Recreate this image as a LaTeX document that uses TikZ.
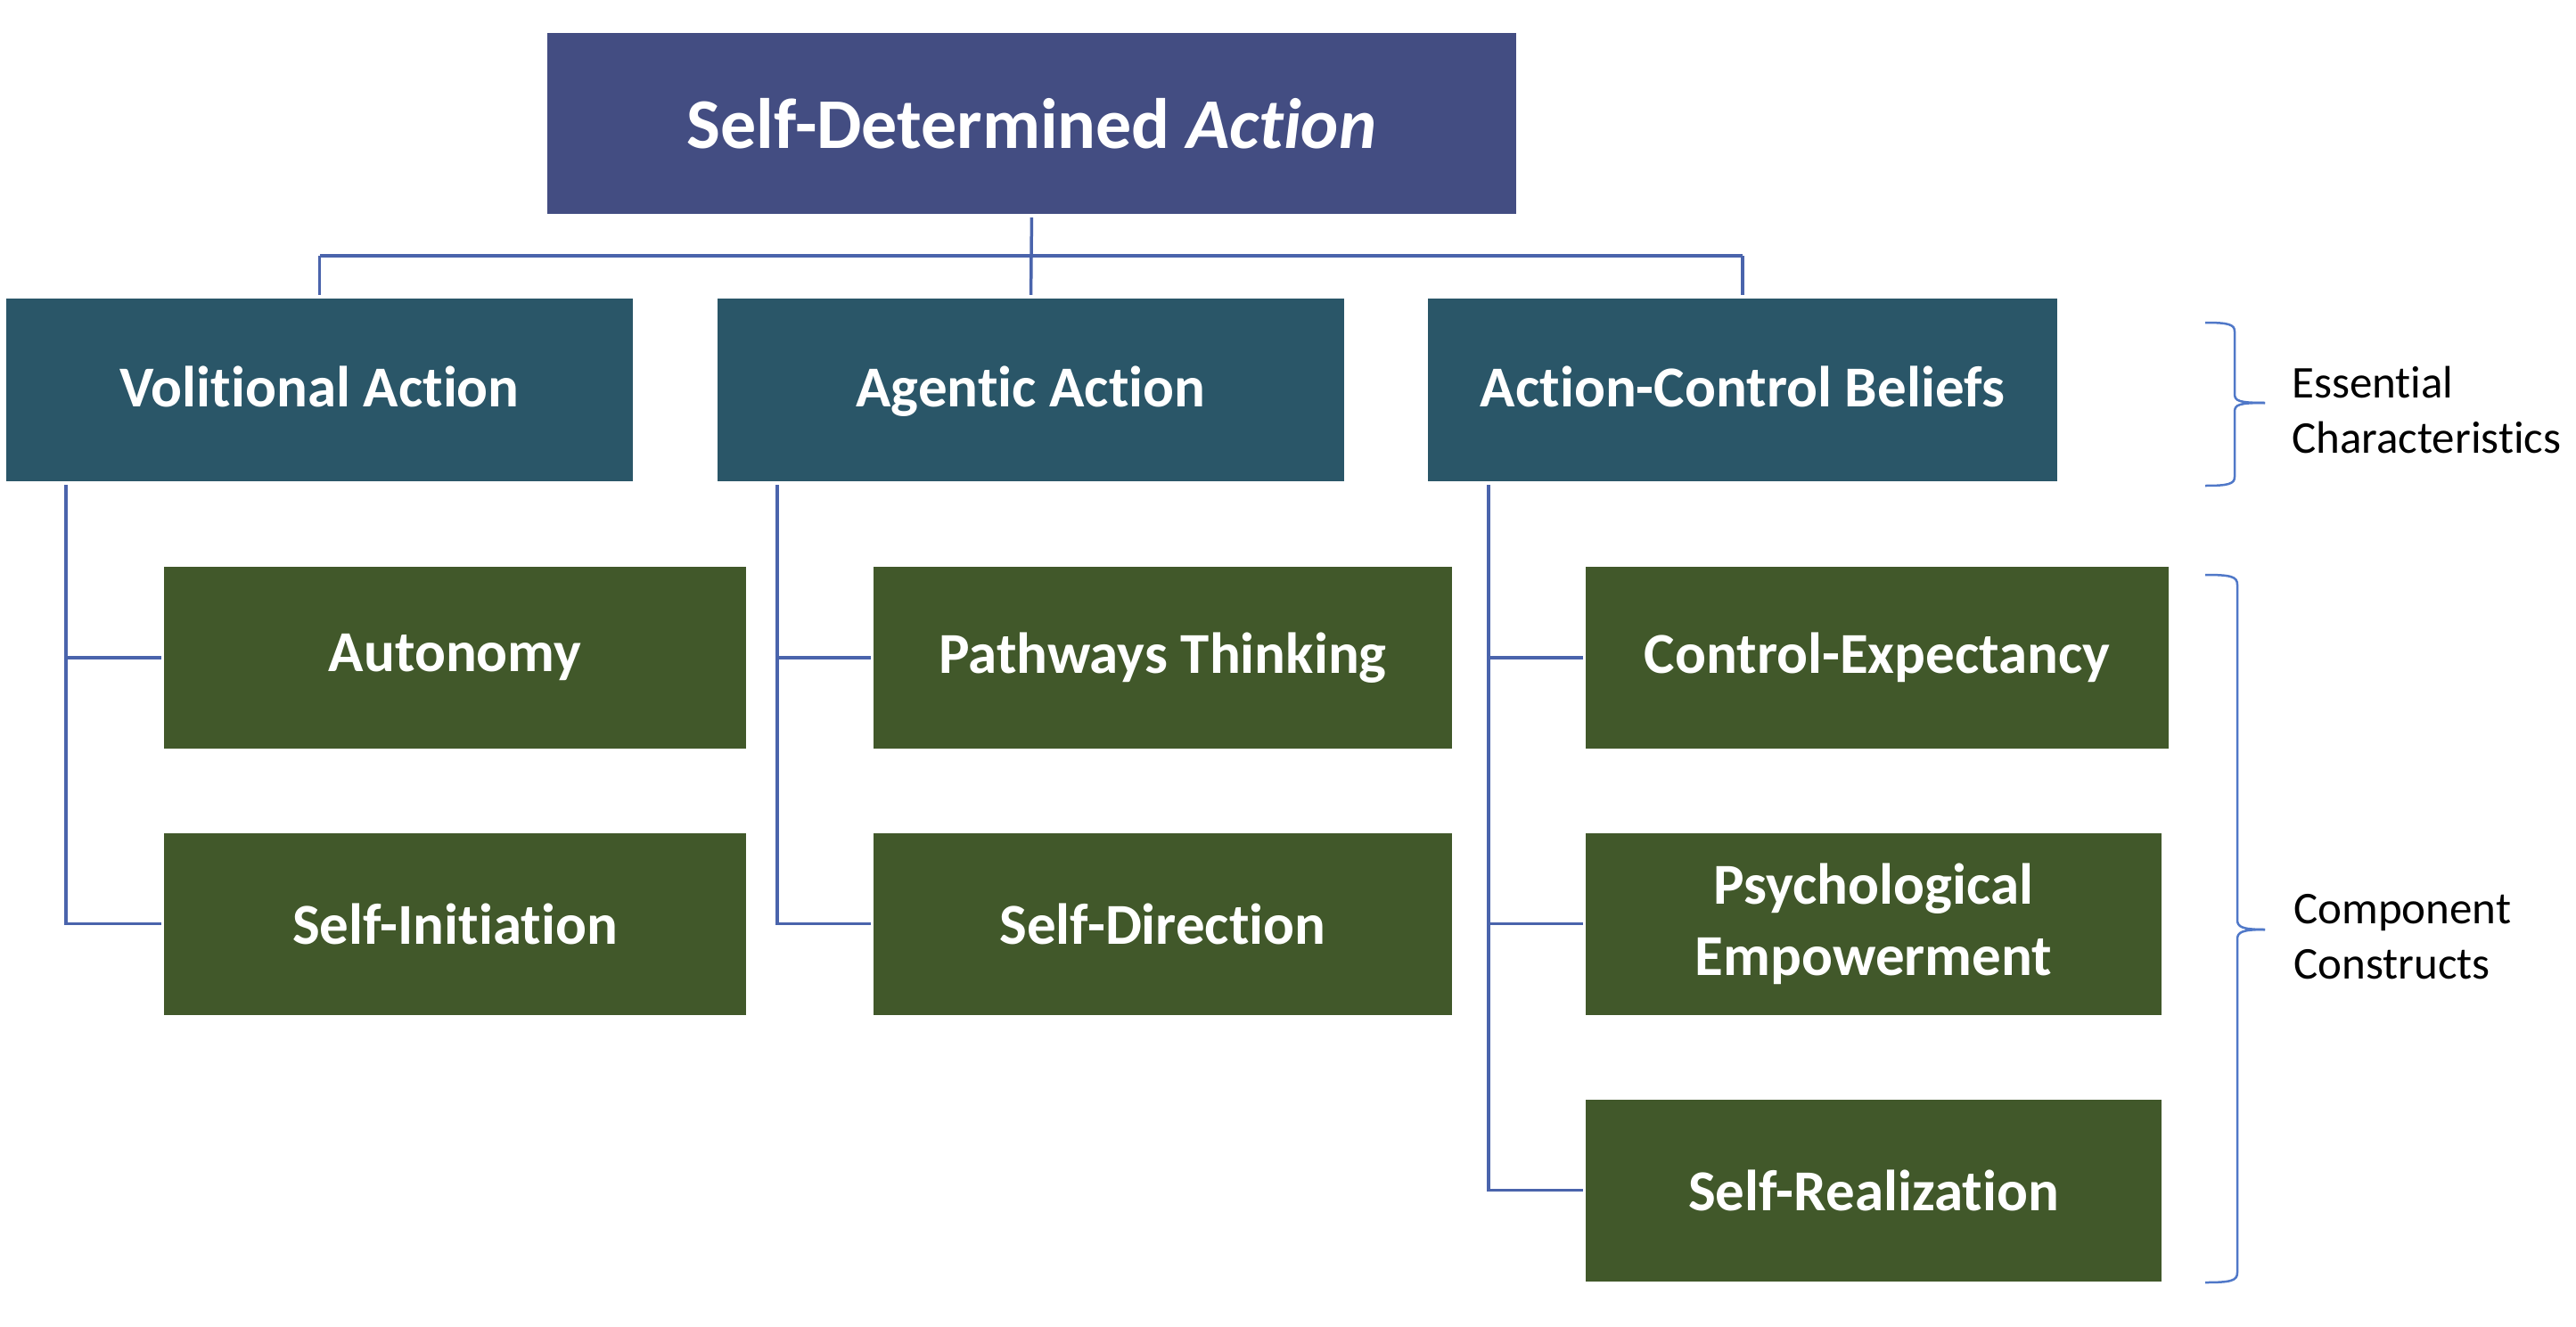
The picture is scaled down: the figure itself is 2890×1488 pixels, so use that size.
\documentclass[tikz,border=0pt]{standalone}
\usepackage{fontspec}
\setmainfont{Carlito}[Ligatures=NoCommon]
\begin{document}
\begin{tikzpicture}[x=1pt,y=-1pt,
  boxbase/.style={rectangle,inner sep=0pt,text=white,align=center,font=\fontsize{65}{80}\selectfont\bfseries},
  topbox/.style={boxbase,fill=topcol,font=\fontsize{80}{96}\selectfont\bfseries},
  charbox/.style={boxbase,fill=charcol,minimum height=205,execute at begin node={\rule[-13pt]{0pt}{63pt}}},
  compbox/.style={boxbase,fill=compcol,minimum height=204},
  conn/.style={draw=linecol,line width=3.5pt},
  bracestyle/.style={draw=bracecol,line width=2.5pt},
  sidelabel/.style={anchor=west,align=left,inner sep=0pt,font=\fontsize{51}{62}\selectfont}
]
\definecolor{topcol}{RGB}{67,77,130}
\definecolor{charcol}{RGB}{42,86,104}
\definecolor{compcol}{RGB}{65,88,42}
\definecolor{linecol}{RGB}{74,100,172}
\definecolor{bracecol}{RGB}{80,120,200}
\useasboundingbox (0,0) rectangle (2890,1488);
\fill[white] (0,0) rectangle (2890,1488);

% top
\node[topbox,minimum width=1087,minimum height=203] (top) at (1157.5,138.5) {Self-Determined \textit{Action}};

% level 1
\node[charbox,minimum width=703] (va) at (358.5,437.5) {Volitional Action};
\node[charbox,minimum width=703] (ag) at (1156.5,437.5) {Agentic Action};
\node[charbox,minimum width=706] (acb) at (1955,437.5) {Action-Control Beliefs};

% level 2
\node[compbox,minimum width=653] (au) at (510.5,738) {Autonomy};
\node[compbox,minimum width=653] (si) at (510.5,1036.5) {Self-Initiation};
\node[compbox,minimum width=649] (pt) at (1304.5,738) {Pathways Thinking};
\node[compbox,minimum width=649] (sd) at (1304.5,1036.5) {Self-Direction};
\node[compbox,minimum width=654] (ce) at (2106,738) {Control-Expectancy};
\node[compbox,minimum width=646] (pe) at (2102,1036.5) {Psychological\\Empowerment};
\node[compbox,minimum width=646] (sr) at (2102,1335.5) {Self-Realization};

% top connectors
\coordinate (bar) at (0,287);
\draw[conn,shorten <=4pt,shorten >=4pt] (top.south) -- (ag.north);
\draw[conn] (va.north |- bar) -- (acb.north |- bar);
\draw[conn,shorten >=4pt] (va.north |- bar) -- (va.north);
\draw[conn,shorten >=4pt] (acb.north |- bar) -- (acb.north);

% spines
\coordinate (s1) at (74,544);
\coordinate (s2) at (872,544);
\coordinate (s3) at (1670,544);
\draw[conn] (s1) |- ([xshift=-3pt]si.west);
\draw[conn] (s1 |- au.west) -- ([xshift=-3pt]au.west);
\draw[conn] (s2) |- ([xshift=-3pt]sd.west);
\draw[conn] (s2 |- pt.west) -- ([xshift=-3pt]pt.west);
\draw[conn] (s3) |- ([xshift=-3pt]sr.west);
\draw[conn] (s3 |- ce.west) -- ([xshift=-3pt]ce.west);
\draw[conn] (s3 |- pe.west) -- ([xshift=-3pt]pe.west);

% braces
\coordinate (b1t) at (2474,362);
\coordinate (b1b) at (2474,545);
\coordinate (b1tip) at (2541,452);
\draw[bracestyle] (b1t) .. controls (2500,362) and (2507,364) .. (2507,372) -- (2507,442) .. controls (2507,450) and (2512,452) .. (b1tip);
\draw[bracestyle] (b1b) .. controls (2500,545) and (2507,543) .. (2507,535) -- (2507,462) .. controls (2507,454) and (2512,452) .. (b1tip);

\coordinate (b2t) at (2474,645);
\coordinate (b2b) at (2474,1439);
\coordinate (b2tip) at (2541,1043);
\draw[bracestyle] (b2t) .. controls (2503,645) and (2510,647) .. (2510,656) -- (2510,1032) .. controls (2510,1040) and (2515,1043) .. (b2tip);
\draw[bracestyle] (b2b) .. controls (2503,1439) and (2510,1437) .. (2510,1428) -- (2510,1054) .. controls (2510,1046) and (2515,1043) .. (b2tip);

\node[sidelabel] (ess) at (2571,460) {Essential\\Characteristics};
\node[sidelabel] (cmp) at (2573,1051) {Component\\Constructs};
\end{tikzpicture}
\end{document}
